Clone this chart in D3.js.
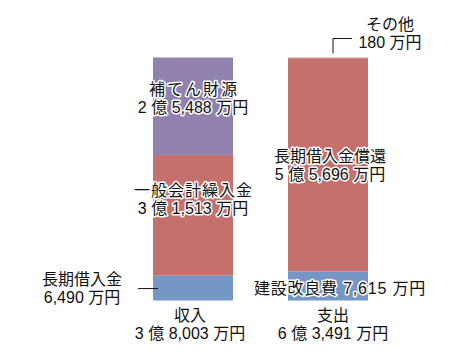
<!DOCTYPE html>
<html>
<head>
<meta charset="utf-8">
<script src="https://cdn.jsdelivr.net/npm/d3@7"></script>
<style>
  body { margin: 0; background: #fff; }
  text { font-family: "Liberation Sans", "Noto Sans CJK JP", sans-serif; fill: #111; }
  .halo { paint-order: stroke; stroke: #fff; stroke-width: 3px; stroke-linejoin: round; }
</style>
</head>
<body>
<div id="chart"></div>
<script>
"use strict";

// data (万円)
var columns = ["収入", "支出"];
var columnTotals = [38003, 63491];
var incomeNames = ["長期借入金", "一般会計繰入金", "補てん財源"];
var incomeValues = [6490, 31513, 25488];
var expenseNames = ["建設改良費", "長期借入金償還", "その他"];
var expenseValues = [7615, 55696, 180];
var segColors = ["#7497c6", "#c4716d", "#9181af"];
var otherColor = "#d98f8c";

var W = 452, H = 354;
var svg = d3.select("#chart").append("svg")
  .attr("width", W).attr("height", H);

var y = d3.scaleLinear()
  .domain([0, d3.sum(expenseValues)])
  .range([300.5, 57.5]);
var x = d3.scalePoint()
  .domain(columns)
  .range([193, 328]);
var barW = 80;

function stackUp(names, values) {
  var acc = 0;
  return names.map(function(n, i) {
    var s = { name: n, value: values[i], y0: acc, y1: acc + values[i], i: i };
    acc += values[i];
    return s;
  });
}
var incomeSegs = stackUp(incomeNames, incomeValues);
var expenseSegs = stackUp(expenseNames, expenseValues);

// "2 億 5,488 万円"
function fmtYen(v) {
  var oku = Math.floor(v / 10000), man = v % 10000;
  var s = "";
  if (oku > 0) s += oku + " 億 ";
  s += d3.format(",")(man) + " 万円";
  return s;
}

function drawBar(col, segs) {
  svg.append("g").selectAll("rect")
    .data(segs)
    .join("rect")
    .attr("x", x(col) - barW / 2)
    .attr("width", barW)
    .attr("y", function(d) { return y(d.y1); })
    .attr("height", function(d) { return y(d.y0) - y(d.y1); })
    .attr("fill", function(d) { return d.name === "その他" ? otherColor : segColors[d.i]; });
}
drawBar(columns[0], incomeSegs);
drawBar(columns[1], expenseSegs);

// two-line label, first line may be letter-spaced
function label(cx, cy, lines, cls, spacing) {
  lines.forEach(function(l, k) {
    var t = svg.append("text")
      .attr("class", cls || "")
      .attr("text-anchor", "middle")
      .attr("x", cx + (k === 0 && spacing ? spacing / 2 : 0))
      .attr("y", cy + k * 18)
      .style("font-size", "16px")
      .text(l);
    if (k === 0 && spacing) t.style("letter-spacing", spacing + "px");
  });
}

function mid(d) { return y((d.y0 + d.y1) / 2); }

// income labels
var inc = incomeSegs;
label(x(columns[0]), mid(inc[2]) - 11, [inc[2].name, fmtYen(inc[2].value)], "halo", 2);
label(x(columns[0]), y(inc[1].y1) + 41, [inc[1].name, fmtYen(inc[1].value)], "halo", 1);
label(82, mid(inc[0]) - 3, [inc[0].name, fmtYen(inc[0].value)]);
svg.append("line")
  .attr("x1", 138).attr("x2", x(columns[0]) - barW / 2 + 5)
  .attr("y1", mid(inc[0]) + 0.5).attr("y2", mid(inc[0]) + 0.5)
  .attr("stroke", "#111").attr("stroke-width", 1);

// expense labels
var exp = expenseSegs;
label(x(columns[1]) + 2, mid(exp[1]) - 3, [exp[1].name, fmtYen(exp[1].value)], "halo");
svg.append("text")
  .attr("class", "halo")
  .attr("x", 340).attr("y", mid(exp[0]) + 8)
  .attr("text-anchor", "middle")
  .style("font-size", "16px")
  .style("letter-spacing", "0.8px")
  .text(exp[0].name + " " + fmtYen(exp[0].value));
label(390, 30, [exp[2].name, fmtYen(exp[2].value)]);
var topY = y(exp[2].y1);
svg.append("path")
  .attr("d", "M333," + (topY - 4) + "V38.5H352")
  .attr("fill", "none").attr("stroke", "#111").attr("stroke-width", 1);

// column labels
columns.forEach(function(c, i) {
  label(x(c) + (i === 0 ? -3 : 5), 321, [c, fmtYen(columnTotals[i])]);
});
</script>
</body>
</html>
